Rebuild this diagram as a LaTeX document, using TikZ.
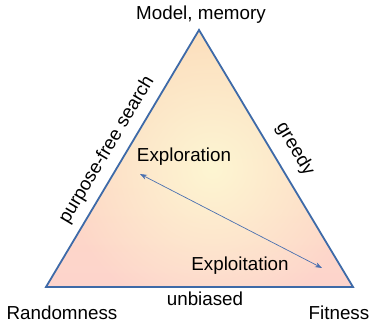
\documentclass[tikz,border=0pt]{standalone}
\usepackage{fontspec}
\setmainfont{Liberation Sans}
\usetikzlibrary{arrows.meta,fadings}
\tikzfading[name=myfadeout, inner color=transparent!0, outer color=transparent!100]
\definecolor{edgeblue}{HTML}{3E6AA8}
\definecolor{arrowblue}{HTML}{4A70B0}
\definecolor{peach}{HTML}{FCDDBA}
\definecolor{pinkc}{HTML}{FDD4CC}
\definecolor{yellowc}{HTML}{FDF6D2}
\tikzset{
  lbl/.style={inner sep=0pt, font=\fontsize{18.8}{21}\selectfont, text=black},
  tri/.style={draw=edgeblue, line width=1.8pt, line join=miter},
  dualarrow/.style={draw=arrowblue, line width=0.7pt, {Stealth[length=7pt,width=5pt]}-{Stealth[length=7pt,width=5pt]}}
}
\begin{document}
\begin{tikzpicture}[x=1pt,y=1pt]
\useasboundingbox (0,0) rectangle (375,323);
\coordinate (T) at (199,293);
\coordinate (L) at (46,36);
\coordinate (R) at (353,36);
\shade[top color=peach, bottom color=pinkc] (T) -- (L) -- (R) -- cycle;
\begin{scope}
  \clip (T) -- (L) -- (R) -- cycle;
  \fill[yellowc, path fading=myfadeout] (212,155) circle (150);
\end{scope}
\draw[tri] (T) -- (L) -- (R) -- cycle;
\coordinate (A1) at (140,149);
\coordinate (A2) at (322,55);
\draw[dualarrow] (A1) -- (A2);
\node[lbl] (model) at (201,308) {Model, memory};
\node[lbl] (rand) at (62,10) {Randomness};
\node[lbl] (fit) at (339,10) {Fitness};
\node[lbl] (unb) at (205,24) {unbiased};
\node[lbl] (explr) at (184,166) {Exploration};
\node[lbl] (explt) at (240,57) {Exploitation};
\node[lbl, rotate=59.2] (pfs) at (107,173) {purpose-free search};
\node[lbl, rotate=-59.2] (grd) at (295,174) {greedy};
\end{tikzpicture}
\end{document}
